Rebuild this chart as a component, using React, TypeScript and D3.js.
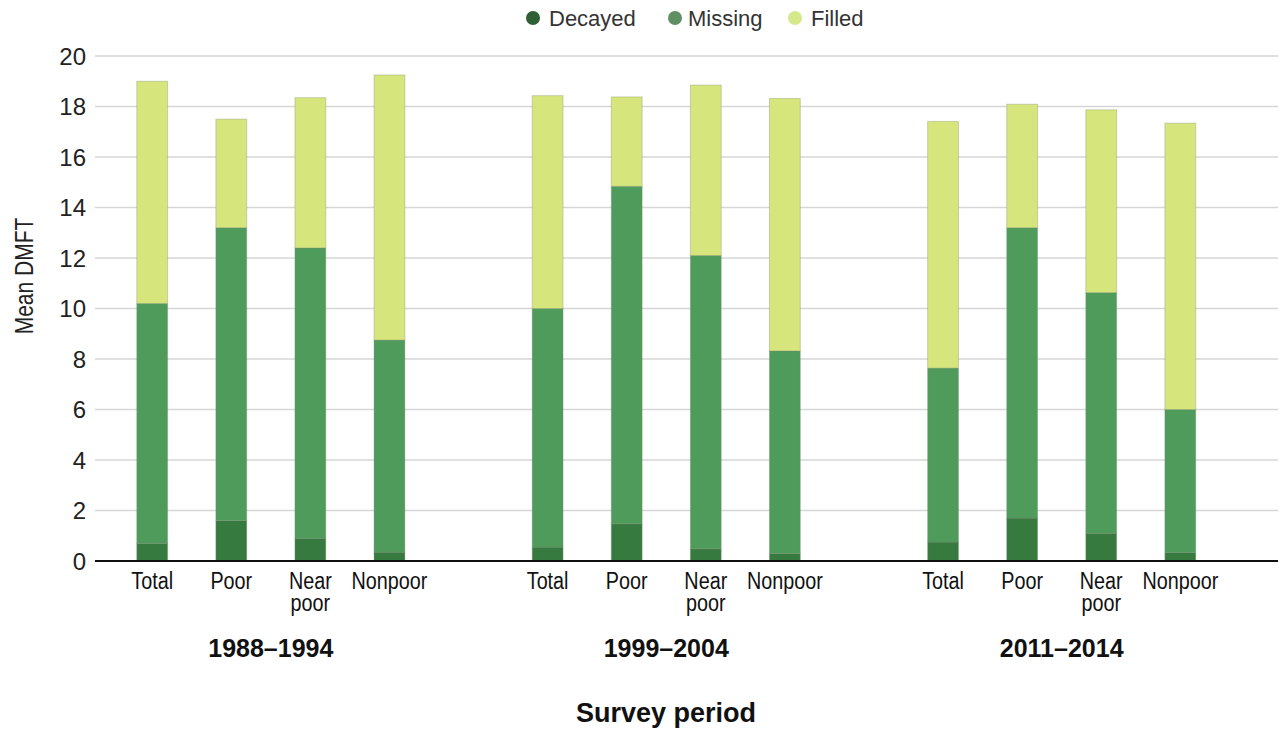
import React from "react";
import * as d3 from "d3";

const periods = ["1988–1994", "1999–2004", "2011–2014"];
const groups = ["Total", "Poor", "Near poor", "Nonpoor"];
const seriesNames = ["Decayed", "Missing", "Filled"];

// values in order: period-major, group-minor
const decayed = [0.7, 1.6, 0.9, 0.35, 0.55, 1.47, 0.48, 0.3, 0.75, 1.7, 1.1, 0.34];
const missing = [9.5, 11.6, 11.5, 8.4, 9.45, 13.37, 11.62, 8.02, 6.89, 11.5, 9.53, 5.66];
const filled = [8.8, 4.3, 5.95, 10.5, 8.43, 3.54, 6.75, 10.0, 9.77, 4.89, 7.24, 11.34];

const yTicks = [0, 2, 4, 6, 8, 10, 12, 14, 16, 18, 20];

const barColors = ["#377a3f", "#4e9b5b", "#d6e67c"];
const legendColors = ["#2f5f35", "#5f8f63", "#d5e98c"];

type Row = { period: string; group: string; Decayed: number; Missing: number; Filled: number };

const rows: Row[] = [];
periods.forEach((p, pi) =>
  groups.forEach((g, gi) => {
    const i = pi * groups.length + gi;
    rows.push({ period: p, group: g, Decayed: decayed[i], Missing: missing[i], Filled: filled[i] });
  })
);

export default function App() {
  const W = 1279;
  const H = 729;
  const y = d3.scaleLinear().domain([0, 20]).range([561, 56]);
  const x0 = d3.scaleBand<string>().domain(periods).range([100, 1232.5]).paddingInner(0.2).paddingOuter(0.032);
  const x1 = d3
    .scaleBand<string>()
    .domain(groups)
    .range([0, x0.bandwidth()])
    .paddingInner(0.61)
    .paddingOuter(0.305);

  const stack = d3.stack<Row>().keys(seriesNames);
  const stacked = stack(rows);

  const gridLeft = 95;
  const gridRight = 1278;

  const legendItems = [
    { name: "Decayed", cx: 533, tx: 549 },
    { name: "Missing", cx: 675, tx: 688 },
    { name: "Filled", cx: 795, tx: 811 },
  ];

  const font = "'Liberation Sans', Arial, Helvetica, sans-serif";

  return (
    <svg
      width={W}
      height={H}
      style={{ position: "absolute", left: 0, top: 0, background: "#fff" }}
      fontFamily={font}
    >
      {/* legend */}
      {legendItems.map((l, i) => (
        <g key={l.name}>
          <circle cx={l.cx} cy={18} r={7} fill={legendColors[i]} />
          <text x={l.tx} y={26} fontSize={22} fill="#333">
            {l.name}
          </text>
        </g>
      ))}

      {/* gridlines */}
      {yTicks.map((t) =>
        t === 0 ? null : (
          <line key={t} x1={gridLeft} x2={gridRight} y1={y(t)} y2={y(t)} stroke="#d6d6d6" strokeWidth={1.5} />
        )
      )}

      {/* y tick labels */}
      {yTicks.map((t) => (
        <text key={t} x={86} y={y(t)} dy="0.36em" textAnchor="end" fontSize={24} fill="#222">
          {t}
        </text>
      ))}

      {/* y axis title */}
      <text
        transform={`translate(33,276) rotate(-90) scale(0.84,1)`}
        textAnchor="middle"
        fontSize={25}
        fill="#222"
      >
        Mean DMFT
      </text>

      {/* bars */}
      {stacked.map((s, si) => (
        <g key={s.key}>
          {s.map((d, i) => {
            const r = d.data;
            const bx = (x0(r.period) as number) + (x1(r.group) as number);
            return (
              <rect
                key={i}
                x={bx}
                width={x1.bandwidth()}
                y={y(d[1])}
                height={y(d[0]) - y(d[1])}
                fill={barColors[si]}
                stroke="rgba(120,140,110,0.35)"
                strokeWidth={1}
              />
            );
          })}
        </g>
      ))}

      {/* x axis line */}
      <line x1={gridLeft} x2={gridRight} y1={y(0)} y2={y(0)} stroke="#111" strokeWidth={2} />

      {/* category labels */}
      {rows.map((r, i) => {
        const cx = (x0(r.period) as number) + (x1(r.group) as number) + x1.bandwidth() / 2;
        const lines = r.group === "Near poor" ? ["Near", "poor"] : [r.group];
        return (
          <text
            key={i}
            transform={`translate(${cx},589) scale(0.86,1)`}
            textAnchor="middle"
            fontSize={23}
            fill="#111"
          >
            {lines.map((ln, li) => (
              <tspan key={li} x={0} y={li * 22}>
                {ln}
              </tspan>
            ))}
          </text>
        );
      })}

      {/* period labels */}
      {periods.map((p) => (
        <text
          key={p}
          x={(x0(p) as number) + x0.bandwidth() / 2}
          y={657}
          textAnchor="middle"
          fontSize={25}
          fontWeight="bold"
          fill="#111"
        >
          {p}
        </text>
      ))}

      {/* x axis title */}
      <text x={666} y={722} textAnchor="middle" fontSize={27} fontWeight="bold" fill="#111">
        Survey period
      </text>
    </svg>
  );
}
